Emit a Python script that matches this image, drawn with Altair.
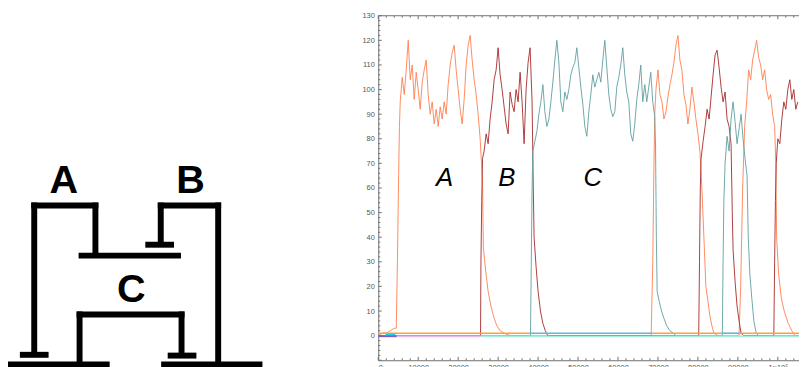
import altair as alt
import pandas as pd

STEP = 500  # sampling interval of the dense trace readings (time units)

# ---------------- species A (orange) ----------------
A_sparse_t = [0, 1000, 2000, 3000, 4000, 4500, 4800, 5100, 5300,
              26100, 26300, 26900, 27500, 28200, 29000, 29700, 30500, 31500, 33000,
              68300, 68700, 69000, 69200,
              80500, 81000, 81500, 82000, 82500, 83000, 83500, 84000, 85000,
              90300,
              99500, 99700, 100200, 100900, 101600, 102600, 103500, 104300, 105300]
A_sparse_v = [0, 1, 1, 2, 3, 3, 30, 65, 85,
              62, 36, 26, 18, 12, 7, 4, 2, 1, 0,
              0, 30, 70, 90,
              75, 60, 40, 20, 14, 8, 4, 1, 0,
              0,
              70, 40, 25, 15, 10, 5, 2, 0, 0]
A_seg_starts = [5500, 69500, 90700]
A_seg_vals = [
    [95, 105, 98, 108, 120, 104, 110, 96, 107, 100, 92, 103, 108, 112, 98, 90, 95, 86, 92, 85,
     93, 88, 95, 90, 102, 110, 115, 118, 108, 100, 92, 86, 96, 110, 118, 122, 112, 104, 98, 90, 80],
    [100, 108, 98, 95, 88, 91, 97, 102, 106, 111, 118, 122, 112, 108, 98, 94, 86, 92, 101, 95, 88, 82],
    [20, 60, 85, 95, 108, 104, 112, 116, 120, 113, 110, 104, 108, 100, 96, 98, 90, 85],
]

# ---------------- species B (dark red) ----------------
B_sparse_t = [0, 25600, 25700, 25900, 26100,
              38800, 39000, 39500, 40000, 40600, 41200, 41800, 42400,
              80200, 80400, 80600, 80800,
              88600, 88800, 89300, 89800, 90300, 90800, 91400,
              99000, 99200, 99400, 99600]
B_sparse_v = [0, 0, 30, 55, 72,
              60, 40, 28, 18, 10, 5, 2, 0,
              0, 30, 60, 72,
              50, 35, 22, 12, 6, 1, 0,
              0, 30, 55, 70]
B_seg_starts = [26500, 81300, 100000]
B_seg_vals = [
    [75, 82, 78, 88, 95, 104, 108, 117, 106, 100, 93, 86, 82, 99, 94, 91, 100, 95, 107, 95,
     78, 100, 111, 117, 95],
    [79, 85, 92, 88, 97, 106, 114, 116, 109, 101, 95, 99, 88, 85, 78],
    [80, 78, 88, 95, 92, 100, 104, 96, 100, 92, 95],
]

# ---------------- species C (teal) ----------------
C_sparse_t = [0, 38100, 38300, 38500, 38700,
              69400, 69600, 69800, 70300, 70900, 71500, 72200, 73000, 73800, 74500,
              86100, 86300, 86500, 86800,
              92600, 93000, 93500, 94000, 94600, 95200, 105300]
C_sparse_v = [0, 0, 30, 60, 75,
              77, 40, 18, 14, 10, 7, 4, 2, 1, 0,
              0, 30, 55, 70,
              40, 25, 15, 6, 1, 0, 0]
C_seg_starts = [39200, 87300]
C_seg_vals = [
    [79, 83, 90, 95, 102, 91, 85, 88, 95, 103, 112, 120, 111, 95, 91, 99, 96, 100, 106, 109,
     111, 117, 109, 101, 94, 85, 81, 91, 98, 106, 101, 104, 107, 103, 112, 120, 109, 98, 92, 89,
     91, 101, 105, 110, 117, 106, 99, 95, 82, 79, 86, 96, 102, 110, 95, 102, 95, 101, 107, 95, 89],
    [81, 75, 88, 95, 87, 78, 84, 90, 80, 72, 65],
]

SPECIES = ["A", "B", "C"]
SPECIES_COLORS = ["#FF7F50", "#A52A2A", "#5F9EA0"]

# ---------------- near-zero state lines ----------------
state_t0 = [0, 68700, 90400, 38000, 86000, 25600, 4600, 0, 1800]
state_t1 = [38000, 86000, 105300, 68700, 90400, 105300, 25600, 4600, 4300]
state_v = [1, 1, 1, 1, 1, -0.3, -0.3, -0.3, 0.5]
state_col = ["#F7A440", "#F7A440", "#F7A440", "#62B6E6", "#62B6E6",
             "#A6EEDC", "#E6BCEE", "#7E5CC8", "#22D0E4"]

# ---------------- plot labels ----------------
lab_text = ["A", "B", "C"]
lab_t = [16600, 32200, 53700]
lab_v = [61, 61, 61]

# ---------------- axis ticks ----------------
y_labels = [0, 10, 20, 30, 40, 50, 60, 70, 80, 90, 100, 110, 120, 130]
y_major = [-10] + y_labels
y_minor = [v for v in range(-10, 131, 2) if v % 10]
x_major = [0, 10000, 20000, 30000, 40000, 50000, 60000, 70000, 80000, 90000, 100000]
x_minor = [v for v in range(0, 105301, 2000) if v % 10000]

# ---------------- circuit diagram (diagram units) ----------------
seg_x = [26.5, 23.5, 88.3, 71.3, 151.3, 154.3, 138.7, 212.3, 69.3, 72.3, 175.3, 161.3, 12, 0, 154.7]
seg_x2 = [26.5, 91.3, 88.3, 174.7, 215.3, 154.3, 167.7, 212.3, 178.3, 72.3, 175.3, 190.3, 41, 102.7, 257]
seg_y = [164.3, 161.3, 164.3, 110.7, 161.3, 164.3, 121.7, 164.3, 51.3, 54.3, 54.3, 9.7, 10.5, 0.7, 0.7]
seg_y2 = [10.5, 161.3, 110.7, 110.7, 161.3, 121.7, 121.7, -5, 51.3, -5, 9.7, 9.7, 10.5, 0.7, 0.7]
dlab_text = ["A", "B", "C"]
dlab_x = [56.3, 184.5, 124.5]
dlab_y = [173.7, 173.7, 63.5]

# ================= build tables =================
def build(name, st, sv, starts, vals):
    rows = list(zip(st, sv))
    for s0, vs in zip(starts, vals):
        rows += [(s0 + i * STEP, v) for i, v in enumerate(vs)]
    rows.sort()
    return pd.DataFrame({"s": name, "t": [r[0] for r in rows], "v": [r[1] for r in rows]})

traces = pd.concat([
    build("A", A_sparse_t, A_sparse_v, A_seg_starts, A_seg_vals),
    build("B", B_sparse_t, B_sparse_v, B_seg_starts, B_seg_vals),
    build("C", C_sparse_t, C_sparse_v, C_seg_starts, C_seg_vals),
], ignore_index=True)

states = pd.DataFrame({"t0": state_t0, "t1": state_t1, "v": state_v, "c": state_col})
labels = pd.DataFrame({"t": lab_t, "v": lab_v, "text": lab_text})
seg = pd.DataFrame({"x": seg_x, "x2": seg_x2, "y": seg_y, "y2": seg_y2})
dlab = pd.DataFrame({"x": dlab_x, "y": dlab_y, "text": dlab_text})

XS = alt.Scale(domain=[0, 105300], nice=False, zero=False)
YS = alt.Scale(domain=[-10, 130], nice=False, zero=False)
DX = alt.Scale(domain=[374, 799], nice=False, zero=False)
DY = alt.Scale(domain=[5, 353], nice=False, zero=False)

FRAME = "#707070"
FONT = "Liberation Sans"

diagram = alt.Chart(seg).mark_rule(color="black", strokeWidth=6, strokeCap="butt").encode(
    x=alt.X("x:Q", scale=DX, axis=None), x2="x2",
    y=alt.Y("y:Q", scale=DY, axis=None), y2="y2")

diagram_text = alt.Chart(dlab).mark_text(font=FONT, fontSize=40, fontWeight="bold",
                                         baseline="alphabetic", align="center", color="black").encode(
    x=alt.X("x:Q", scale=DX, axis=None), y=alt.Y("y:Q", scale=DY, axis=None), text="text:N")

trace_layer = alt.Chart(traces).mark_line(strokeWidth=1, opacity=0.9).encode(
    x=alt.X("t:Q", scale=XS, title=None,
            axis=alt.Axis(values=x_major, ticks=False, grid=False, labelFontSize=7.5, labelFont=FONT,
                          labelColor="#555555", domainColor=FRAME, labelPadding=3,
                          labelExpr="datum.value == 100000 ? '1×10⁵' : format(datum.value, 'd')")),
    y=alt.Y("v:Q", scale=YS, title=None,
            axis=alt.Axis(values=y_labels, ticks=False, grid=False, labelFontSize=7.5, labelFont=FONT,
                          labelColor="#555555", domainColor=FRAME, labelPadding=4)),
    color=alt.Color("s:N", scale=alt.Scale(domain=SPECIES, range=SPECIES_COLORS), legend=None),
    detail="s:N")

state_layer = alt.Chart(states).mark_rule(strokeWidth=1.6).encode(
    x=alt.X("t0:Q", scale=XS, axis=None), x2="t1",
    y=alt.Y("v:Q", scale=YS, axis=None),
    color=alt.Color("c:N", scale=None))

label_layer = alt.Chart(labels).mark_text(font=FONT, fontSize=26, fontStyle="italic",
                                          baseline="alphabetic", align="center", color="black").encode(
    x=alt.X("t:Q", scale=XS, axis=None), y=alt.Y("v:Q", scale=YS, axis=None), text="text:N")

top_frame = alt.Chart(pd.DataFrame({"t0": [0], "t1": [105300], "v": [130]})).mark_rule(
    color=FRAME, strokeWidth=1).encode(
    x=alt.X("t0:Q", scale=XS, axis=None), x2="t1", y=alt.Y("v:Q", scale=YS, axis=None))

def yticks(vals, length):
    return alt.Chart(pd.DataFrame({"v": vals})).mark_rule(color=FRAME, strokeWidth=1).encode(
        y=alt.Y("v:Q", scale=YS, axis=None), x=alt.value(0), x2=alt.value(length))

def xticks(vals, y0, y1):
    return alt.Chart(pd.DataFrame({"t": vals})).mark_rule(color=FRAME, strokeWidth=1).encode(
        x=alt.X("t:Q", scale=XS, axis=None), y=alt.value(y0), y2=alt.value(y1))

H = 348
chart = alt.layer(
    diagram, diagram_text,
    trace_layer, state_layer, label_layer, top_frame,
    yticks(y_major, 3.5), yticks(y_minor, 2),
    xticks(x_major, 0, 3.5), xticks(x_minor, 0, 2),
    xticks(x_major, H, H - 3.5), xticks(x_minor, H, H - 2),
).resolve_scale(x="independent", y="independent", color="independent").properties(
    width=425, height=H,
    padding={"left": 374, "top": 6, "right": 0, "bottom": 5},
    autosize=alt.AutoSizeParams(type="none"),
    background="white",
).configure_view(stroke=None)

chart.save("out.html", embed_options={"renderer": "svg", "actions": False})
